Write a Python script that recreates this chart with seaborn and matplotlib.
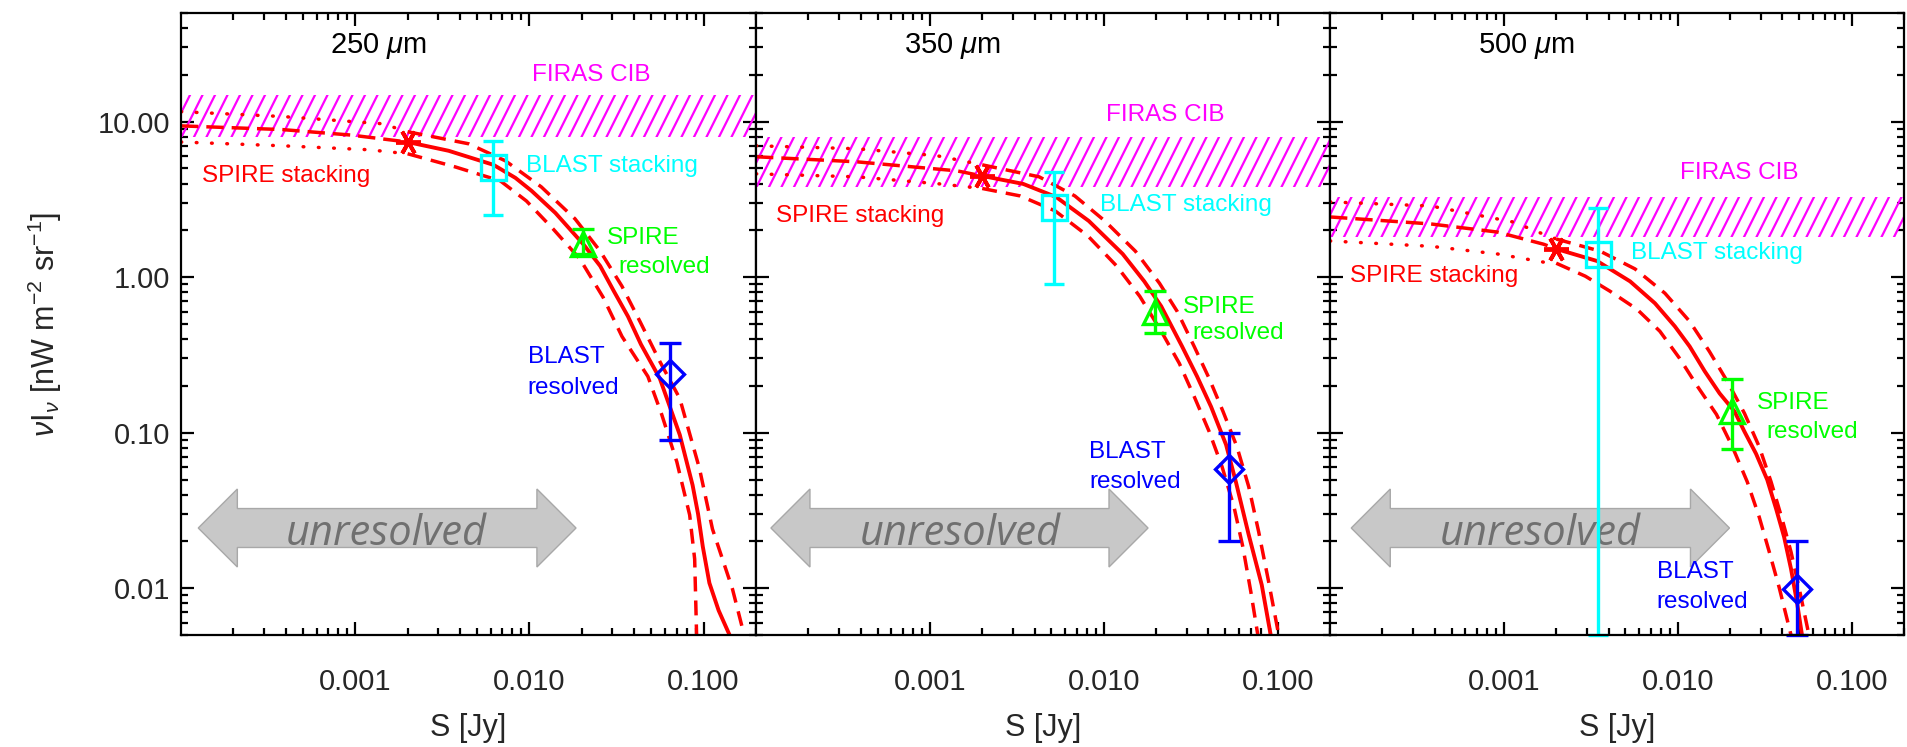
import numpy as np
import matplotlib
matplotlib.use("Agg")
import matplotlib.pyplot as plt
import matplotlib.hatch as mhatch
from matplotlib.path import Path
import seaborn as sns
from matplotlib.patches import Polygon
from matplotlib.ticker import LogLocator, NullFormatter

# ---------------- data ----------------
bands = ["250", "350", "500"]

firas_lo = [8.0, 3.8, 1.8]
firas_hi = [14.8, 8.0, 3.3]

spire_stack_S = [0.002, 0.002, 0.002]
spire_stack_V = [7.4, 4.5, 1.52]

blast_stack_S = [0.0062, 0.0052, 0.0035]
blast_stack_V = [5.1, 2.83, 1.41]
blast_stack_lo = [2.5, 0.90, 0.005]
blast_stack_hi = [7.5, 4.76, 2.79]

spire_res_S = [0.0204, 0.0198, 0.0204]
spire_res_V = [1.63, 0.60, 0.137]
spire_res_lo = [1.41, 0.44, 0.079]
spire_res_hi = [2.04, 0.81, 0.22]

blast_res_S = [0.064, 0.0525, 0.0485]
blast_res_V = [0.237, 0.0586, 0.0099]
blast_res_lo = [0.090, 0.020, 0.005]
blast_res_hi = [0.38, 0.099, 0.020]

# model curves (centre, upper bound, lower bound) for each band
c250_S = [1.0e-4, 3.8e-4, 9.5e-4, 2.0e-3, 3.44e-3, 6.22e-3, 8.32e-3, 1.03e-2, 1.41e-2, 2.04e-2, 2.55e-2,
          3.06e-2, 3.68e-2, 4.37e-2, 5.61e-2, 7.3e-2, 8.65e-2, 9.3e-2, 0.099, 0.108, 0.122, 0.141]
c250_V = [9.4, 8.9, 8.2, 7.4, 6.5, 5.28, 4.35, 3.59, 2.59, 1.63, 1.18,
          0.81, 0.56, 0.37, 0.223, 0.097, 0.046, 0.030, 0.0185, 0.0108, 0.0072, 0.005]
u250_S = [1.0e-4, 3.8e-4, 1.43e-3, 2.0e-3, 4.48e-3, 7.29e-3, 1.17e-2, 1.83e-2, 2.55e-2, 3.40e-2,
          4.31e-2, 5.61e-2, 7.30e-2, 9.48e-2, 0.1125, 0.1466, 0.171]
u250_V = [11.6, 10.8, 9.7, 8.62, 7.21, 5.60, 3.81, 2.37, 1.47, 0.875,
          0.52, 0.287, 0.166, 0.0586, 0.024, 0.00986, 0.005]
l250_S = [1.0e-4, 3.8e-4, 1.2e-3, 2.0e-3, 3.73e-3, 6.82e-3, 9.62e-3, 1.37e-2, 1.95e-2, 2.65e-2,
          3.40e-2, 4.79e-2, 5.75e-2, 7.02e-2, 8.32e-2, 8.89e-2, 9.12e-2]
l250_V = [7.4, 7.0, 6.6, 6.22, 5.13, 4.16, 3.09, 2.04, 1.31, 0.743,
          0.416, 0.230, 0.131, 0.065, 0.0296, 0.0154, 0.005]

c350_S = [1.0e-4, 3.8e-4, 1.43e-3, 2.0e-3, 3.44e-3, 5.32e-3, 8.2e-3, 1.285e-2, 1.71e-2, 2.14e-2, 2.82e-2,
          3.44e-2, 4.14e-2, 5.05e-2, 5.75e-2, 6.82e-2, 8.1e-2, 9.12e-2]
c350_V = [5.95, 5.52, 4.83, 4.48, 3.98, 3.28, 2.30, 1.41, 0.94, 0.65, 0.359,
          0.23, 0.147, 0.0837, 0.0483, 0.022, 0.0105, 0.005]
u350_S = [1.0e-4, 3.8e-4, 1.1e-3, 2.0e-3, 4.25e-3, 6.82e-3, 1.014e-2, 1.52e-2, 2.09e-2, 2.65e-2,
          3.31e-2, 4.04e-2, 4.85e-2, 5.83e-2, 6.82e-2, 7.78e-2, 8.89e-2, 0.1014]
u350_V = [7.0, 6.7, 6.04, 5.28, 4.42, 3.33, 2.30, 1.47, 0.915, 0.60,
          0.359, 0.223, 0.137, 0.0813, 0.0449, 0.023, 0.0109, 0.005]
l350_S = [1.0e-4, 3.8e-4, 1.14e-3, 2.0e-3, 3.31e-3, 5.25e-3, 8.11e-3, 1.186e-2, 1.61e-2, 2.14e-2,
          2.72e-2, 3.31e-2, 4.04e-2, 4.79e-2, 5.61e-2, 6.31e-2, 7.02e-2, 7.69e-2]
l350_V = [4.62, 4.42, 3.98, 3.72, 3.33, 2.67, 1.84, 1.18, 0.754, 0.449,
          0.279, 0.171, 0.1015, 0.0604, 0.0333, 0.0184, 0.0094, 0.005]

c500_S = [1.0e-4, 3.8e-4, 9.2e-4, 1.69e-3, 2.0e-3, 3.44e-3, 5.32e-3, 7.39e-3, 9.62e-3, 1.17e-2, 1.43e-2,
          1.74e-2, 2.12e-2, 2.42e-2, 2.82e-2, 3.27e-2, 3.68e-2, 4.09e-2, 4.48e-2, 4.85e-2, 5.18e-2]
c500_V = [2.44, 2.20, 1.95, 1.63, 1.52, 1.27, 0.94, 0.68, 0.483, 0.359, 0.248,
          0.179, 0.137, 0.1015, 0.0732, 0.0498, 0.0323, 0.0213, 0.0133, 0.0081, 0.005]
u500_S = [1.0e-4, 3.8e-4, 1.14e-3, 1.69e-3, 2.0e-3, 3.58e-3, 5.68e-3, 8.43e-3, 1.17e-2, 1.52e-2,
          1.93e-2, 2.42e-2, 2.94e-2, 3.44e-2, 3.98e-2, 4.48e-2, 4.98e-2, 5.68e-2]
u500_V = [3.05, 2.87, 2.26, 1.89, 1.76, 1.47, 1.13, 0.789, 0.52, 0.333,
          0.213, 0.133, 0.0813, 0.0483, 0.0279, 0.0171, 0.0101, 0.005]
l500_S = [1.0e-4, 3.8e-4, 9.2e-4, 1.69e-3, 2.0e-3, 2.94e-3, 4.08e-3, 5.83e-3, 7.89e-3, 1.026e-2,
          1.30e-2, 1.67e-2, 2.06e-2, 2.51e-2, 2.94e-2, 3.36e-2, 3.83e-2, 4.48e-2]
l500_V = [1.71, 1.58, 1.41, 1.25, 1.23, 1.015, 0.812, 0.622, 0.449, 0.30,
          0.198, 0.131, 0.0813, 0.0483, 0.0287, 0.0171, 0.0101, 0.005]

x_ticks = [1e-3, 1e-2, 1e-1]
x_ticklabels = ["0.001", "0.010", "0.100"]
y_ticks = [0.01, 0.1, 1.0, 10.0]
y_ticklabels = ["0.01", "0.10", "1.00", "10.00"]

curves = {
    "250": ((c250_S, c250_V), (u250_S, u250_V), (l250_S, l250_V)),
    "350": ((c350_S, c350_V), (u350_S, u350_V), (l350_S, l350_V)),
    "500": ((c500_S, c500_V), (u500_S, u500_V), (l500_S, l500_V)),
}

# ---------------- steeper hatch style (IDL-like line fill) ----------------
try:
    class SteepHatch(mhatch.HatchPatternBase):
        def __init__(self, hatch, density):
            n = hatch.count("/") * 8
            self.n = n
            self.num_vertices = (n + n // 2 + 1) * 2 if n else 0

        def set_vertices_and_codes(self, vertices, codes):
            n = self.n
            a = np.arange(-(n // 2), n + 1) / n
            vertices[0::2, 0] = a
            vertices[0::2, 1] = 0.0
            vertices[1::2, 0] = a + 0.5
            vertices[1::2, 1] = 1.0
            codes[0::2] = Path.MOVETO
            codes[1::2] = Path.LINETO

    _k = mhatch._hatch_types.index(mhatch.NorthEastHatch)
    mhatch._hatch_types[_k] = SteepHatch
except Exception:
    pass

# ---------------- layout / style ----------------
sns.set_theme(style="ticks")
plt.rcParams["font.family"] = ["Liberation Sans", "DejaVu Sans"]
plt.rcParams["mathtext.fontset"] = "custom"
plt.rcParams["mathtext.rm"] = "Liberation Sans"
plt.rcParams["mathtext.it"] = "Liberation Sans:italic"
plt.rcParams["hatch.linewidth"] = 1.6

W, H = 1907, 747
fig = plt.figure(figsize=(W / 100, H / 100), dpi=100)

lefts = [181, 756, 1330]
widths = [575, 574, 574]
bot_px, top_px = 635, 13

# text positions (axes fractions)
title_xy = (0.343, 0.947)
firas_xy = [(0.713, 0.900), (0.713, 0.836), (0.713, 0.743)]
sstack_xy = [(0.036, 0.738), (0.035, 0.674), (0.035, 0.577)]
bstack_xy = [(0.600, 0.754), (0.600, 0.691), (0.524, 0.614)]
sres1_xy = [(0.741, 0.638), (0.743, 0.527), (0.743, 0.373)]
sres2_xy = [(0.760, 0.592), (0.760, 0.486), (0.760, 0.326)]
bres1_xy = [(0.603, 0.447), (0.581, 0.294), (0.569, 0.101)]
bres2_xy = [(0.603, 0.397), (0.581, 0.246), (0.569, 0.053)]
arrow_x = [(0.030, 0.687), (0.026, 0.683), (0.037, 0.696)]
unres_x = [0.357, 0.355, 0.367]

RED, CYAN, GREEN, BLUE, MAG = "#ff0000", "#00ffff", "#00ff00", "#0000ff", "#ff00ff"
LW = 2.5
lab_fs = 17.5

def tspan(S, V, lo, hi):
    S = np.asarray(S); V = np.asarray(V)
    m = (S >= lo) & (S <= hi)
    return S[m], V[m]

for i, band in enumerate(bands):
    ax = fig.add_axes([lefts[i] / W, (H - bot_px) / H, widths[i] / W, (bot_px - top_px) / H])
    ax.set_xscale("log")
    ax.set_yscale("log")
    ax.set_xlim(1e-4, 0.2)
    ax.set_ylim(0.005, 50)

    # FIRAS band
    ax.axhspan(firas_lo[i], firas_hi[i], facecolor="none", edgecolor=MAG,
               hatch="/", linewidth=0, zorder=1)

    s0 = spire_stack_S[i]
    (cS, cV), (uS, uV), (lS, lV) = curves[band]
    # left of stacking point: dashed centre, dotted bounds
    x, y = tspan(cS, cV, 0, s0)
    sns.lineplot(x=x, y=y, ax=ax, color=RED, lw=LW, sort=False, estimator=None,
                 linestyle=(0, (5, 2.3)), zorder=3)
    for bS, bV in ((uS, uV), (lS, lV)):
        x, y = tspan(bS, bV, 0, s0)
        sns.lineplot(x=x, y=y, ax=ax, color=RED, lw=LW, sort=False, estimator=None,
                     linestyle=(0, (0.2, 4.2)), dash_capstyle="round", zorder=3)
    # right of stacking point: solid centre, dashed bounds
    x, y = tspan(cS, cV, s0, 1)
    sns.lineplot(x=x, y=y, ax=ax, color=RED, lw=LW + 0.3, sort=False, estimator=None,
                 linestyle="-", zorder=3)
    for bS, bV in ((uS, uV), (lS, lV)):
        x, y = tspan(bS, bV, s0, 1)
        sns.lineplot(x=x, y=y, ax=ax, color=RED, lw=LW, sort=False, estimator=None,
                     linestyle=(0, (4.3, 2.6)), zorder=3)

    # data points
    ax.plot([spire_stack_S[i]], [spire_stack_V[i]], ls="none", marker=(6, 2, 90),
            ms=18, mew=2.8, color=RED, zorder=5)
    ax.errorbar([blast_stack_S[i]], [blast_stack_V[i]],
                yerr=[[blast_stack_V[i] - blast_stack_lo[i]], [blast_stack_hi[i] - blast_stack_V[i]]],
                fmt="s", ms=18, mfc="none", mec=CYAN, mew=2.4, color=CYAN,
                elinewidth=2.4, capsize=7, capthick=2.4, zorder=6, clip_on=False)
    ax.errorbar([spire_res_S[i]], [spire_res_V[i]],
                yerr=[[spire_res_V[i] - spire_res_lo[i]], [spire_res_hi[i] - spire_res_V[i]]],
                fmt="^", ms=17, mfc="none", mec=GREEN, mew=2.4, color=GREEN,
                elinewidth=2.4, capsize=8, capthick=2.4, zorder=6)
    ax.errorbar([blast_res_S[i]], [blast_res_V[i]],
                yerr=[[blast_res_V[i] - blast_res_lo[i]], [blast_res_hi[i] - blast_res_V[i]]],
                fmt="D", ms=14, mfc="none", mec=BLUE, mew=2.4, color=BLUE,
                elinewidth=2.4, capsize=8, capthick=2.4, zorder=6, clip_on=False)

    # texts
    T = ax.transAxes
    ax.text(*title_xy, rf"{band} $\mu$m", transform=T, ha="center", va="center",
            fontsize=21, color="black")
    ax.text(*firas_xy[i], "FIRAS CIB", transform=T, ha="center", va="center",
            fontsize=lab_fs, color=MAG)
    ax.text(*sstack_xy[i], "SPIRE stacking", transform=T, ha="left", va="center",
            fontsize=lab_fs, color=RED)
    ax.text(*bstack_xy[i], "BLAST stacking", transform=T, ha="left", va="center",
            fontsize=lab_fs, color=CYAN)
    ax.text(*sres1_xy[i], "SPIRE", transform=T, ha="left", va="center",
            fontsize=lab_fs, color=GREEN)
    ax.text(*sres2_xy[i], "resolved", transform=T, ha="left", va="center",
            fontsize=lab_fs, color=GREEN)
    ax.text(*bres1_xy[i], "BLAST", transform=T, ha="left", va="center",
            fontsize=lab_fs, color=BLUE)
    ax.text(*bres2_xy[i], "resolved", transform=T, ha="left", va="center",
            fontsize=lab_fs, color=BLUE)

    # "unresolved" double arrow
    x0, x1 = arrow_x[i]
    yc, hh, sh, hl = 0.172, 0.0627, 0.0313, 0.068
    verts = [(x0, yc), (x0 + hl, yc + hh), (x0 + hl, yc + sh), (x1 - hl, yc + sh),
             (x1 - hl, yc + hh), (x1, yc), (x1 - hl, yc - hh), (x1 - hl, yc - sh),
             (x0 + hl, yc - sh), (x0 + hl, yc - hh)]
    ax.add_patch(Polygon(verts, closed=True, transform=T, facecolor="#c8c8c8",
                         edgecolor="#a8a8a8", lw=1.0, zorder=2))
    ax.text(unres_x[i], 0.145, "unresolved", transform=T, ha="center", va="baseline",
            fontsize=30, color="#707070", family=["Open Sans", "DejaVu Sans"],
            style="italic", zorder=4)

    # axes styling
    ax.set_xticks(x_ticks, labels=x_ticklabels)
    ax.xaxis.set_minor_locator(LogLocator(base=10, subs=np.arange(2, 10)))
    ax.xaxis.set_minor_formatter(NullFormatter())
    ax.set_yticks(y_ticks, labels=y_ticklabels if i == 0 else [""] * len(y_ticks))
    ax.yaxis.set_minor_locator(LogLocator(base=10, subs=np.arange(2, 10)))
    ax.yaxis.set_minor_formatter(NullFormatter())
    ax.set_xlim(1e-4, 0.2)
    ax.set_ylim(0.005, 50)
    ax.tick_params(which="both", direction="in", top=True, right=True,
                   color="black", width=1.6)
    ax.tick_params(which="major", length=9.5)
    ax.tick_params(which="minor", length=4.8)
    ax.tick_params(axis="x", which="major", pad=24, labelsize=21)
    ax.tick_params(axis="y", which="major", pad=8, labelsize=21, labelleft=(i == 0))
    for sp in ax.spines.values():
        sp.set_linewidth(1.6)
        sp.set_color("black")
        sp.set_zorder(10)
    ax.set_xlabel("")
    ax.set_ylabel("")
    ax.text(0.5, -0.150, "S [Jy]", transform=T, ha="center", va="center", fontsize=22)
    ax.grid(False)

fig.text(45 / W, 0.566, r"$\nu$I$_\nu$ [nW m$^{-2}$ sr$^{-1}$]", rotation=90,
         ha="center", va="center", fontsize=22)

fig.savefig("out.png", dpi=100, facecolor="white")
